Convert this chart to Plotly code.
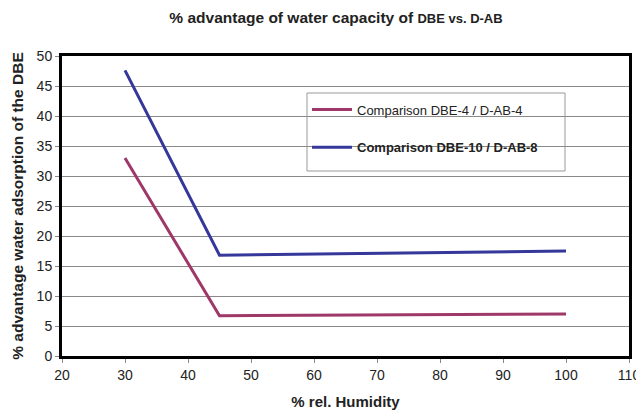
import plotly.graph_objects as go

humidity = [30, 45, 100]
dbe4 = [33.0, 6.7, 7.0]
dbe10 = [47.6, 16.8, 17.5]
names = ["Comparison DBE-4 / D-AB-4", "<b>Comparison DBE-10 / D-AB-8</b>"]
colors = ["#9E3868", "#35379A"]
x_ticks = [20, 30, 40, 50, 60, 70, 80, 90, 100, 110]
y_ticks = [0, 5, 10, 15, 20, 25, 30, 35, 40, 45, 50]

# page has ~8px body margin, so the figure is shifted by (8, 8)
OFF = 8
W, H = 644 - OFF, 410 - OFF
L, R, T, B = 62 - OFF, 15, 56 - OFF, 410 - 356
PW, PH = W - L - R, H - T - B

fig = go.Figure()
for vals, nm, col, grp in [(dbe4, names[0], colors[0], "a"), (dbe10, names[1], colors[1], "b")]:
    fig.add_trace(go.Scatter(x=humidity, y=vals, mode="lines", name=nm,
                             legendgroup=grp,
                             line=dict(color=col, width=3)))

font = "Liberation Sans, Arial, sans-serif"
fig.update_layout(
    width=W, height=H,
    margin=dict(l=L, r=R, t=T, b=B, autoexpand=False),
    paper_bgcolor="white", plot_bgcolor="white",
    font=dict(family=font, color="#222", size=14),
    title=dict(text="<b>% advantage of water capacity of <span style='font-size:13px'>DBE vs. D-AB</span></b>",
               x=(336 - OFF) / W, xanchor="center", xref="container",
               y=1 - (18 - OFF) / H, yref="container",
               yanchor="middle", automargin=False,
               font=dict(size=15.5, family=font, color="#222")),
    showlegend=True,
    legend=dict(x=(307 - 62) / PW, y=(356 - 93) / PH - 0.005, xanchor="left", yanchor="top",
                bgcolor="rgba(0,0,0,0)", borderwidth=0,
                font=dict(size=13, family=font, color="#222"),
                traceorder="grouped", tracegroupgap=18, itemwidth=40),
    xaxis=dict(range=[20, 110], tickvals=x_ticks, showgrid=False, zeroline=False,
               showline=True, linecolor="black", linewidth=3, mirror=True,
               ticks="outside", ticklen=4, tickcolor="#888", automargin=False,
               ticklabeloverflow="allow",
               tickfont=dict(size=14, family=font, color="#222"),
               title=dict(text="<b>% rel. Humidity</b>", standoff=16,
                          font=dict(size=15, family=font, color="#222"))),
    yaxis=dict(range=[0, 50], tickvals=y_ticks, showgrid=True, gridcolor="#8a8a8a",
               gridwidth=1, zeroline=False,
               showline=True, linecolor="black", linewidth=3, mirror=True,
               ticks="outside", ticklen=4, tickcolor="#888", automargin=False,
               tickfont=dict(size=14, family=font, color="#222"),
               title=dict(text="<b>% advantage water adsorption of the DBE</b>", standoff=10,
                          font=dict(size=15.5, family=font, color="#222"))),
)
fig.add_shape(type="rect", xref="paper", yref="paper",
              x0=(307 - 62) / PW, x1=(565 - 62) / PW,
              y0=(356 - 171) / PH, y1=(356 - 93) / PH,
              line=dict(color="#999", width=1), fillcolor="white", layer="below")
fig.write_html("out.html")
